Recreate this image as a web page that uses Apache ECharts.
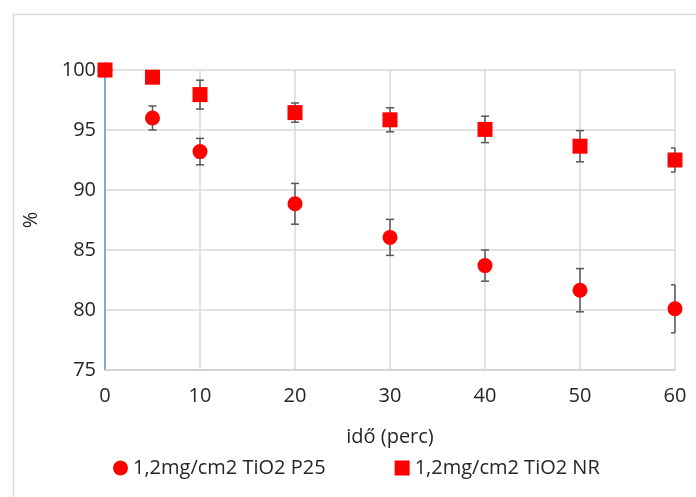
<!DOCTYPE html>
<html><head><meta charset="utf-8">
<script src="https://cdn.jsdelivr.net/npm/echarts@6/dist/echarts.min.js"></script>
<style>html,body{margin:0;padding:0;background:#fff;}#c{width:696px;height:497px;}</style>
</head><body><div id="c"></div>
<script>
const timeMin = [0, 5, 10, 20, 30, 40, 50, 60];
const p25Name = '1,2mg/cm2 TiO2 P25';
const nrName = '1,2mg/cm2 TiO2 NR';
const p25Values = [100, 96.0, 93.2, 88.85, 86.05, 83.7, 81.65, 80.1];
const p25Err = [0, 1.0, 1.1, 1.7, 1.5, 1.3, 1.8, 2.0];
const nrValues = [100, 99.4, 97.95, 96.45, 95.85, 95.05, 93.65, 92.5];
const nrErr = [0, 0.4, 1.2, 0.8, 1.0, 1.1, 1.3, 1.0];
const xAxisTitle = 'idő (perc)';
const yAxisTitle = '%';

const FONT = 'Open Sans';
const FS = 20;
const chart = echarts.init(document.getElementById('c'), null, {renderer: 'canvas'});

function errData(vals, errs) {
  return timeMin.map((t, i) => [t, vals[i] - errs[i], vals[i] + errs[i]]);
}
function errRender(params, api) {
  const x = api.value(0);
  const lo = api.coord([x, api.value(1)]);
  const hi = api.coord([x, api.value(2)]);
  const cs = params.coordSys;
  const w = 4;
  const xl = Math.max(cs.x, lo[0] - w);
  const xr = Math.min(cs.x + cs.width, lo[0] + w);
  const style = {stroke: '#595959', lineWidth: 1.5, fill: null};
  return {
    type: 'group',
    children: [
      {type: 'line', shape: {x1: lo[0], y1: lo[1], x2: hi[0], y2: hi[1]}, style},
      {type: 'line', shape: {x1: xl, y1: lo[1], x2: xr, y2: lo[1]}, style},
      {type: 'line', shape: {x1: xl, y1: hi[1], x2: xr, y2: hi[1]}, style}
    ]
  };
}

chart.setOption({
  animation: false,
  textStyle: {fontFamily: FONT},
  graphic: [{
    type: 'rect', left: 11, top: 12,
    shape: {x: 0, y: 0, width: 700, height: 500},
    style: {fill: null, stroke: '#d9d9d9', lineWidth: 1.5}, z: -1
  }],
  grid: {left: 105, right: 21, top: 70, bottom: 127},
  xAxis: {
    type: 'value', min: 0, max: 60, interval: 10,
    name: xAxisTitle, nameLocation: 'middle', nameGap: 57,
    nameTextStyle: {fontSize: FS, color: '#262626', fontFamily: FONT},
    axisLine: {show: true, lineStyle: {color: '#d0d0d0', width: 1.5}},
    axisTick: {show: false},
    axisLabel: {fontSize: FS, color: '#262626', margin: 16, fontFamily: FONT},
    splitLine: {show: true, lineStyle: {color: '#d9d9d9', width: 1.5}}
  },
  yAxis: {
    type: 'value', min: 75, max: 100, interval: 5,
    name: yAxisTitle, nameLocation: 'middle', nameGap: 64,
    nameTextStyle: {fontSize: FS, color: '#262626', fontFamily: FONT},
    axisLine: {show: true, onZero: false, lineStyle: {color: '#5b9bd5', width: 1.5}},
    axisTick: {show: false},
    axisLabel: {fontSize: FS, color: '#262626', margin: 9, fontFamily: FONT},
    splitLine: {show: true, lineStyle: {color: '#d9d9d9', width: 1.5}}
  },
  legend: {
    bottom: 14, left: 108,
    itemWidth: 15, itemHeight: 15, itemGap: 69,
    textStyle: {fontSize: FS, color: '#262626', fontFamily: FONT},
    data: [{name: p25Name, icon: 'circle'}, {name: nrName, icon: 'rect'}]
  },
  series: [
    {type: 'custom', name: 'p25err', renderItem: errRender, data: errData(p25Values, p25Err), z: 2, silent: true},
    {type: 'custom', name: 'nrerr', renderItem: errRender, data: errData(nrValues, nrErr), z: 2, silent: true},
    {type: 'scatter', name: p25Name, symbol: 'circle', symbolSize: 15,
     itemStyle: {color: '#ff0000', opacity: 1},
     data: timeMin.map((t, i) => [t, p25Values[i]]), z: 5, clip: false},
    {type: 'scatter', name: nrName, symbol: 'rect', symbolSize: 15,
     itemStyle: {color: '#ff0000', opacity: 1},
     data: timeMin.map((t, i) => [t, nrValues[i]]), z: 6, clip: false}
  ]
});
</script>
</body></html>
